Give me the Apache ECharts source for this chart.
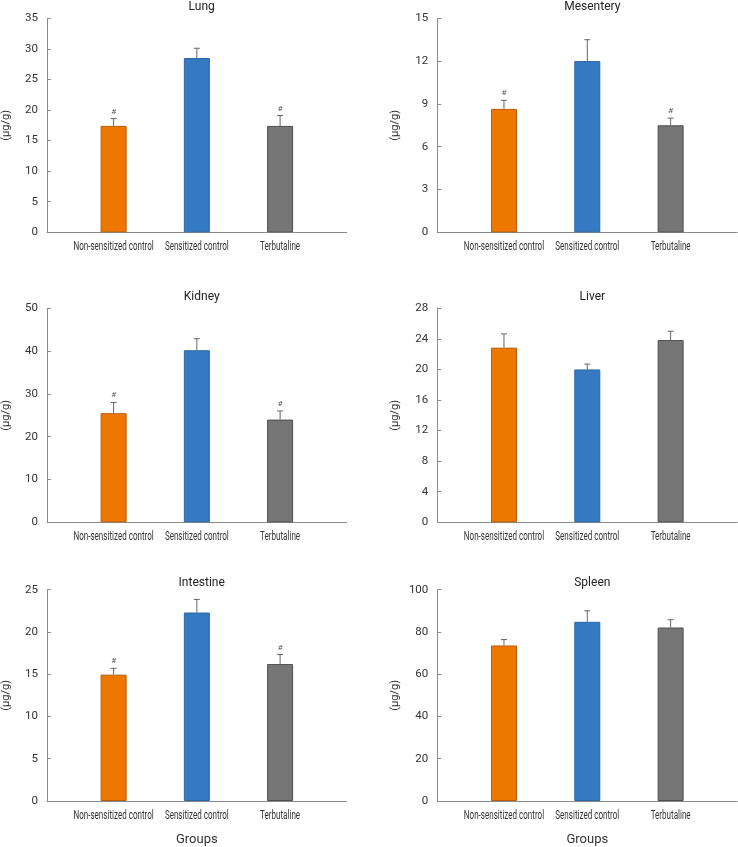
<!DOCTYPE html>
<html>
<head>
<meta charset="utf-8">
<script src="https://cdn.jsdelivr.net/npm/echarts@6/dist/echarts.min.js"></script>
<style>
html,body{margin:0;padding:0;background:#fff;}
#c{width:738px;height:847px;}
</style>
</head>
<body>
<div id="c"></div>
<script>
const categories = ['Non-sensitized control', 'Sensitized control', 'Terbutaline'];
const panelTitles = ['Lung', 'Mesentery', 'Kidney', 'Liver', 'Intestine', 'Spleen'];
const yMax = [35, 15, 50, 28, 25, 100];
const yStep = [5, 3, 10, 4, 5, 20];

const lungMean = [17.4, 28.5, 17.4];
const lungErr = [1.2, 1.6, 1.7];
const lungSig = [1, 0, 1];

const mesenteryMean = [8.65, 12.0, 7.5];
const mesenteryErr = [0.6, 1.5, 0.5];
const mesenterySig = [1, 0, 1];

const kidneyMean = [25.5, 40.2, 24.0];
const kidneyErr = [2.5, 2.7, 2.0];
const kidneySig = [1, 0, 1];

const liverMean = [22.85, 20.0, 23.85];
const liverErr = [1.8, 0.7, 1.15];
const liverSig = [0, 0, 0];

const intestineMean = [14.95, 22.3, 16.2];
const intestineErr = [0.75, 1.55, 1.13];
const intestineSig = [1, 0, 1];

const spleenMean = [73.6, 84.8, 82.1];
const spleenErr = [2.8, 5.2, 3.7];
const spleenSig = [0, 0, 0];

const means = [lungMean, mesenteryMean, kidneyMean, liverMean, intestineMean, spleenMean];
const errs = [lungErr, mesenteryErr, kidneyErr, liverErr, intestineErr, spleenErr];
const sigs = [lungSig, mesenterySig, kidneySig, liverSig, intestineSig, spleenSig];

const barColors = ['#EE7700', '#3479C1', '#767676'];
const barBorders = ['#B85C00', '#2A65A3', '#4E4E4E'];

const FONT = 'Roboto, "Liberation Sans", sans-serif';
const colLeft = [46.7, 437.3];
const rowTop = [18.3, 308.3, 589.7];
const rowH = [214, 214, 214.3];
const titleTop = [-4, 286, 572];

const chart = echarts.init(document.getElementById('c'));
const grids = [], xAxes = [], yAxes = [], series = [], titles = [];

for (let i = 0; i < 6; i++) {
  const col = i % 2, row = Math.floor(i / 2);
  const left = colLeft[col];
  grids.push({left: left, top: rowTop[row], width: 300, height: rowH[row], containLabel: false});
  titles.push({
    text: panelTitles[i], left: left + 150, top: titleTop[row], textAlign: 'center',
    textStyle: {fontFamily: FONT, fontSize: 12, fontWeight: 'normal', color: '#222'}
  });
  const bottom = row === 2;
  xAxes.push({
    gridIndex: i, type: 'value', min: -0.8, max: 2.8,
    splitLine: {show: false},
    axisLine: {show: true, onZero: false, lineStyle: {color: '#8a8a8a', width: 1}},
    axisTick: {show: false},
    axisLabel: {show: false},
    name: bottom ? 'Groups' : '', nameLocation: 'middle', nameGap: 32,
    nameTextStyle: {fontFamily: FONT, fontSize: 13, color: '#333'}
  });
  yAxes.push({
    gridIndex: i, type: 'value', min: 0, max: yMax[i], interval: yStep[i],
    splitLine: {show: false},
    axisLine: {show: true, onZero: false, lineStyle: {color: '#8a8a8a', width: 1}},
    axisTick: {show: true, inside: true, length: 4, lineStyle: {color: '#8a8a8a'}},
    axisLabel: {margin: 9, fontFamily: FONT, fontSize: 11.5, color: '#333'},
    name: '(μg/g)', nameLocation: 'middle', nameGap: col === 0 ? 35 : 37, nameRotate: 90,
    nameTextStyle: {fontFamily: FONT, fontSize: 11, color: '#333'}
  });
  series.push({
    type: 'bar', xAxisIndex: i, yAxisIndex: i, barWidth: 26,
    data: means[i].map((v, k) => ({
      value: [k, v],
      itemStyle: {color: barColors[k], borderColor: barBorders[k], borderWidth: 1}
    })),
    silent: true, animation: false
  });
  series.push({
    type: 'custom', xAxisIndex: i, yAxisIndex: i, animation: false, silent: true,
    data: means[i].map((v, k) => [k, v, errs[i][k], sigs[i][k]]),
    renderItem: function (params, api) {
      const x = api.value(0), y = api.value(1), e = api.value(2), s = api.value(3);
      const p0 = api.coord([x, y]);
      const p1 = api.coord([x, y + e]);
      const children = [
        {type: 'line', shape: {x1: p0[0], y1: p0[1], x2: p1[0], y2: p1[1]}, style: {stroke: '#666', lineWidth: 1}},
        {type: 'line', shape: {x1: p1[0] - 3, y1: p1[1], x2: p1[0] + 3, y2: p1[1]}, style: {stroke: '#666', lineWidth: 1}}
      ];
      if (s) {
        children.push({type: 'text', style: {text: '#', x: p1[0], y: p1[1] - 7, textAlign: 'center', textVerticalAlign: 'middle', fontSize: 8, fontFamily: FONT, fill: '#555'}});
      }
      return {type: 'group', children: children};
    }
  });
  // category labels (condensed text) placed through the x axis scale
  series.push({
    type: 'custom', xAxisIndex: i, yAxisIndex: i, animation: false, silent: true, clip: false,
    data: categories.map((c, k) => [k, 0]),
    renderItem: function (params, api) {
      const k = api.value(0);
      const p = api.coord([k, 0]);
      return {
        type: 'text', x: p[0], y: p[1] + 15, scaleX: 0.67, scaleY: 1,
        style: {text: categories[k], textAlign: 'center', textVerticalAlign: 'middle', fontSize: 12, fontFamily: FONT, fill: '#333'}
      };
    }
  });
}

chart.setOption({
  animation: false,
  backgroundColor: '#fff',
  title: titles,
  grid: grids,
  xAxis: xAxes,
  yAxis: yAxes,
  series: series
});
</script>
</body>
</html>
